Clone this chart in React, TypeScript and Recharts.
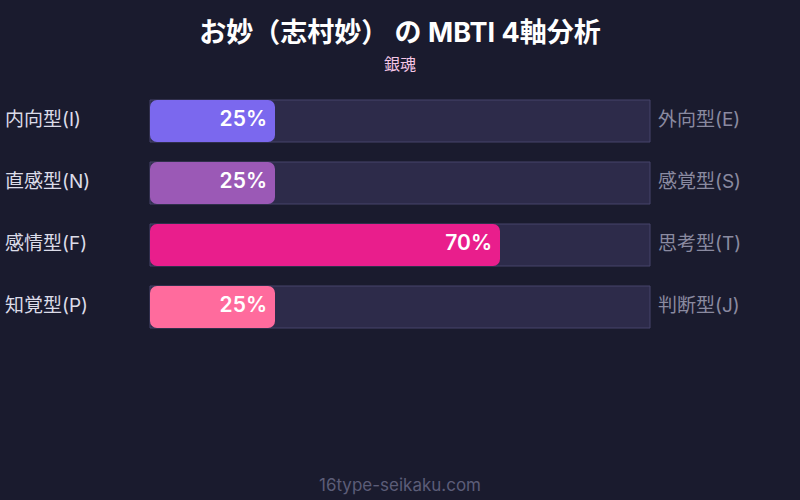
import React from "react";
import { BarChart, Bar, XAxis, YAxis, Cell, LabelList } from "recharts";

const leftLabels = ["内向型(I)", "直感型(N)", "感情型(F)", "知覚型(P)"];
const rightLabels = ["外向型(E)", "感覚型(S)", "思考型(T)", "判断型(J)"];
const values = [25, 25, 70, 25];
const colors = ["#7b68ee", "#9b59b6", "#e91e8c", "#ff6b9d"];
const title = "お妙（志村妙） の MBTI 4軸分析";
const subtitle = "銀魂";
const footer = "16type-seikaku.com";

const data = leftLabels.map((l, i) => ({ left: l, right: rightLabels[i], value: values[i] }));

const FONT = "Inter, 'Noto Sans CJK JP', sans-serif";

const LeftTick = (props: any) => {
  const { y, payload } = props;
  return (
    <text x={5} y={y} dy={5} fill="#dcdce8" fontSize={19} fontFamily={FONT} textAnchor="start">
      {payload.value}
    </text>
  );
};

const RightTick = (props: any) => {
  const { y, payload } = props;
  return (
    <text x={658} y={y} dy={5} fill="#8a8aa0" fontSize={19} fontFamily={FONT} textAnchor="start">
      {payload.value}
    </text>
  );
};

const BarShape = (props: any) => {
  const { x, y, width, height, fill } = props;
  const r = 7;
  return <rect x={x} y={y} width={width} height={height} rx={r} ry={r} fill={fill} />;
};

const ValueLabel = (props: any) => {
  const { x, y, width, height, value } = props;
  return (
    <text
      x={x + width - 8}
      y={y + height / 2}
      dy={5}
      fill="#ffffff"
      fontSize={21}
      fontWeight={600}
      fontFamily={FONT}
      textAnchor="end"
    >
      {value}%
    </text>
  );
};

export default function App() {
  return (
    <div style={{ position: "absolute", left: 0, top: 0, width: 800, height: 500, background: "#1a1b2e", fontFamily: FONT }}>
      <div style={{ position: "absolute", top: 15, left: 0, width: 800, textAlign: "center", color: "#ffffff", fontSize: 27, fontWeight: 700, lineHeight: "36px" }}>
        {title}
      </div>
      <div style={{ position: "absolute", top: 53, left: 0, width: 800, textAlign: "center", color: "#f5c6e6", fontSize: 16, lineHeight: "22px" }}>
        {subtitle}
      </div>
      <BarChart
        width={800}
        height={500}
        data={data}
        layout="vertical"
        margin={{ top: 90, right: 0, bottom: 162, left: 0 }}
        barCategoryGap={10}
      >
        <XAxis type="number" domain={[0, 100]} hide />
        <YAxis yAxisId="l" type="category" dataKey="left" width={150} axisLine={false} tickLine={false} tick={<LeftTick />} />
        <YAxis yAxisId="r" orientation="right" type="category" dataKey="right" width={150} axisLine={false} tickLine={false} tick={<RightTick />} />
        <Bar
          yAxisId="l"
          dataKey="value"
          barSize={42}
          isAnimationActive={false}
          background={{ fill: "#2d2b4a", stroke: "#46456a", strokeWidth: 1 }}
          shape={<BarShape />}
        >
          {data.map((d, i) => (
            <Cell key={i} fill={colors[i]} />
          ))}
          <LabelList dataKey="value" content={<ValueLabel />} />
        </Bar>
      </BarChart>
      <div style={{ position: "absolute", top: 473, left: 0, width: 800, textAlign: "center", color: "#5c5d78", fontSize: 17, lineHeight: "24px" }}>
        {footer}
      </div>
    </div>
  );
}
